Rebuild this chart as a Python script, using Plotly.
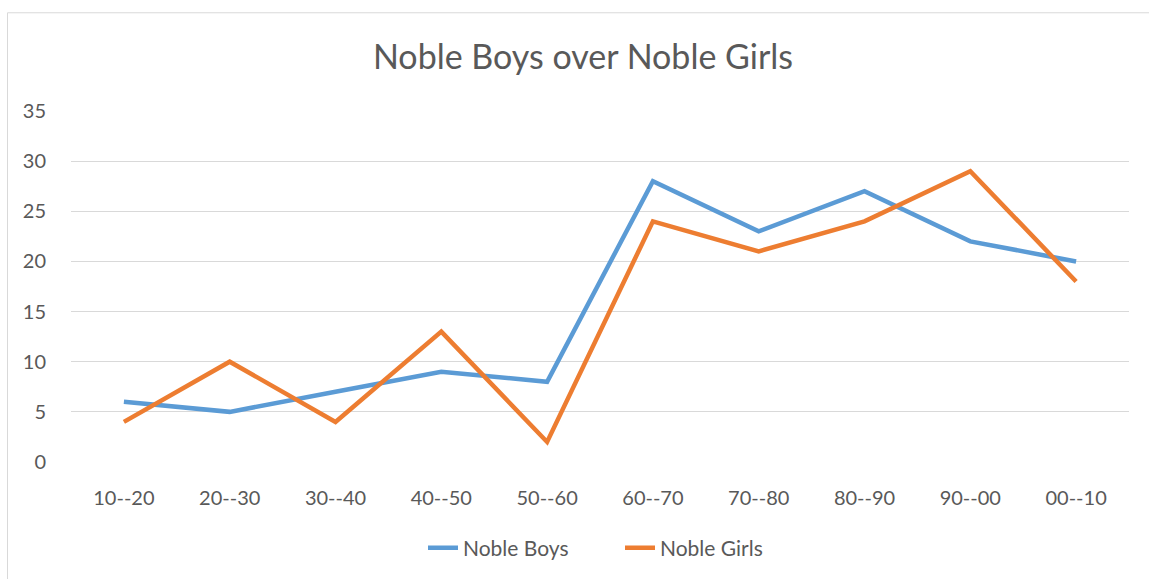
import plotly.graph_objects as go

categories = ["10--20", "20--30", "30--40", "40--50", "50--60", "60--70", "70--80", "80--90", "90--00", "00--10"]
noble_boys = [6, 5, 7, 9, 8, 28, 23, 27, 22, 20]
noble_girls = [4, 10, 4, 13, 2, 24, 21, 24, 29, 18]
y_ticks = [0, 5, 10, 15, 20, 25, 30, 35]

FONT = "Lato, 'Open Sans', sans-serif"
TEXT = "#595959"

fig = go.Figure()
fig.add_trace(go.Scatter(x=categories, y=noble_boys, mode="lines", name="Noble Boys",
                         line=dict(color="#5B9BD5", width=4.5)))
fig.add_trace(go.Scatter(x=categories, y=noble_girls, mode="lines", name="Noble Girls",
                         line=dict(color="#ED7D31", width=4.5)))

W, H = 1149, 579
L, R, T, B = 71, 20, 111, 116
pw, ph = W - L - R, H - T - B

fig.update_layout(
    width=W, height=H,
    margin=dict(l=L, r=R, t=T, b=B),
    paper_bgcolor="white", plot_bgcolor="white",
    font=dict(family=FONT, color=TEXT, size=20),
    title=dict(text="Noble Boys over Noble Girls", x=(583 - L) / pw, xref="paper",
               xanchor="center", y=1 - 57 / H, yref="container", yanchor="middle",
               font=dict(size=34, color=TEXT, family=FONT)),
    xaxis=dict(type="category", range=[-0.5, 9.5], showgrid=False, zeroline=False,
               showline=False, ticks="outside", ticklen=18, tickcolor="rgba(0,0,0,0)",
               tickfont=dict(size=20, color=TEXT)),
    yaxis=dict(range=[0, 35], tickvals=y_ticks, showgrid=True, gridcolor="#D9D9D9",
               gridwidth=1.3, zeroline=False, showline=False, ticks="outside",
               ticklen=20, tickcolor="rgba(0,0,0,0)", tickfont=dict(size=20, color=TEXT)),
    legend=dict(orientation="h", x=(423 - L) / pw, xanchor="left",
                y=(463 - 548) / ph, yanchor="middle", font=dict(size=21, color=TEXT),
                entrywidth=152, entrywidthmode="pixels"),
    showlegend=True,
    shapes=[dict(type="rect", xref="paper", yref="paper",
                 x0=(7.5 - L) / pw, x1=1.2, y0=-1.0, y1=(463 - 12.5) / ph,
                 line=dict(color="#D9D9D9", width=1), fillcolor="rgba(0,0,0,0)", layer="below")],
)

fig.write_html("out.html", config={"displayModeBar": False},
               post_script="document.body.style.margin='0';document.body.style.overflow='hidden';")
